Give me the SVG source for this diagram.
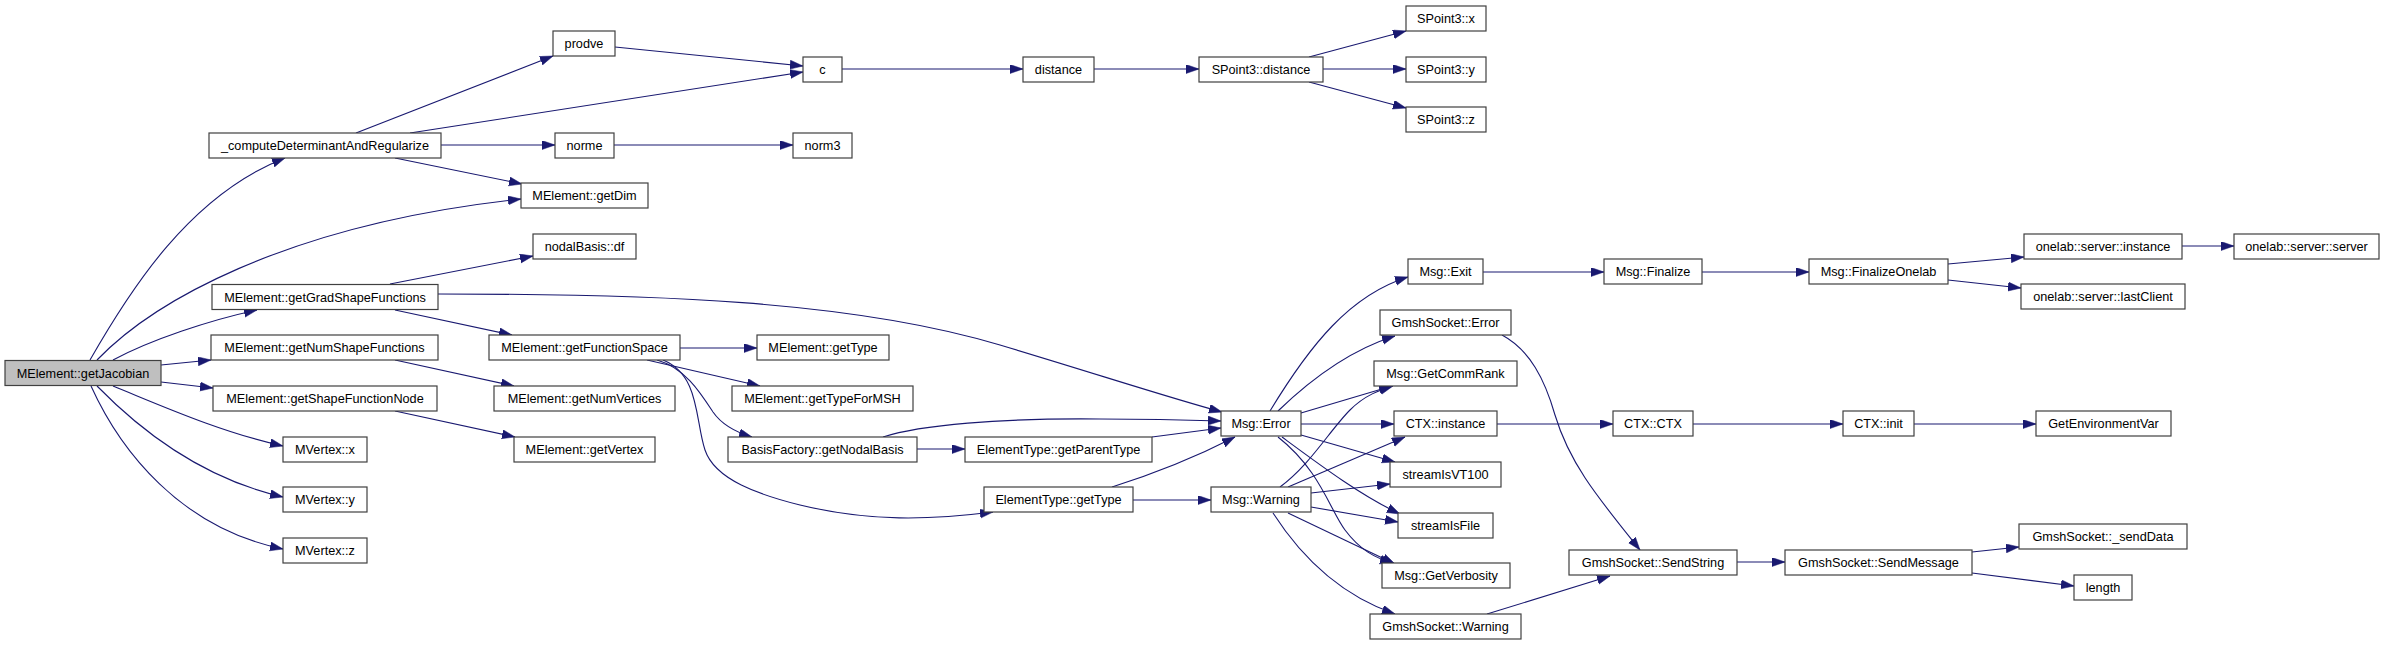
<svg xmlns="http://www.w3.org/2000/svg" width="2384" height="645" viewBox="0 0 2384 645">
<style>
rect.n{fill:#ffffff;stroke:#404040;stroke-width:1.2}
rect.r{fill:#bfbfbf;stroke:#404040;stroke-width:1.2}
text{font-family:"Liberation Sans",Arial,Helvetica,sans-serif;font-size:12.7px;text-anchor:middle;fill:#000}
path.e{fill:none;stroke:#191970;stroke-width:1.1;marker-end:url(#a)}
</style>
<defs>
<marker id="a" markerWidth="14" markerHeight="10" refX="13" refY="4.5" orient="auto" markerUnits="userSpaceOnUse">
<path d="M0,0 L13,4.5 L0,9 z" fill="#191970" stroke="#191970" stroke-width="0.5"/>
</marker>
</defs>
<rect width="2384" height="645" fill="#ffffff"/>
<g id="edges">
<path class="e" d="M90,360 C130,290 190,195 285,158"/>
<path class="e" d="M97,360 C150,305 280,225 521,199"/>
<path class="e" d="M113,360 C150,340 210,320 257,310"/>
<path class="e" d="M161,365 L211,360"/>
<path class="e" d="M161,382 L213,388"/>
<path class="e" d="M113,386 C160,405 220,432 283,446"/>
<path class="e" d="M97,386 C140,430 200,478 283,497"/>
<path class="e" d="M91,386 C120,450 180,528 283,549"/>
<path class="e" d="M356,133 L553,56"/>
<path class="e" d="M410,133 L803,72"/>
<path class="e" d="M441,145 L555,145"/>
<path class="e" d="M395,158 L522,184"/>
<path class="e" d="M615,47 L803,66"/>
<path class="e" d="M842,69 L1023,69"/>
<path class="e" d="M1094,69 L1199,69"/>
<path class="e" d="M1309,57 L1406,31"/>
<path class="e" d="M1323,69 L1406,69"/>
<path class="e" d="M1309,82 L1406,108"/>
<path class="e" d="M614,145 L793,145"/>
<path class="e" d="M390,284 L533,256"/>
<path class="e" d="M438,294 C650,294 850,300 1000,345 C1100,375 1170,398 1222,412"/>
<path class="e" d="M395,310 L512,335"/>
<path class="e" d="M395,360 L514,386"/>
<path class="e" d="M395,411 L515,437"/>
<path class="e" d="M680,348 L757,348"/>
<path class="e" d="M647,360 L760,386"/>
<path class="e" d="M657,360 C685,368 700,392 713,412 C722,425 735,432 752,437"/>
<path class="e" d="M663,360 C700,375 695,420 705,450 C715,480 760,495 800,505 C870,522 930,520 993,512"/>
<path class="e" d="M883,437 C920,425 1000,418 1100,419 C1150,419 1190,420 1221,421"/>
<path class="e" d="M917,449 L965,449"/>
<path class="e" d="M1152,437 L1221,428"/>
<path class="e" d="M1112,487 C1150,475 1190,460 1235,437"/>
<path class="e" d="M1133,500 L1211,500"/>
<path class="e" d="M1270,411 C1310,345 1350,295 1408,277"/>
<path class="e" d="M1278,411 C1310,380 1350,350 1395,336"/>
<path class="e" d="M1301,413 L1392,386"/>
<path class="e" d="M1301,424 L1394,424"/>
<path class="e" d="M1301,435 L1395,462"/>
<path class="e" d="M1282,437 C1320,465 1360,495 1400,514"/>
<path class="e" d="M1278,437 C1320,470 1330,510 1345,530 C1360,550 1375,558 1393,563"/>
<path class="e" d="M1280,487 C1310,465 1330,430 1350,410 C1365,395 1380,390 1393,386"/>
<path class="e" d="M1288,487 L1405,437"/>
<path class="e" d="M1311,493 L1390,484"/>
<path class="e" d="M1311,507 L1398,522"/>
<path class="e" d="M1288,513 L1395,564"/>
<path class="e" d="M1273,513 C1300,555 1340,595 1395,614"/>
<path class="e" d="M1483,272 L1604,272"/>
<path class="e" d="M1702,272 L1809,272"/>
<path class="e" d="M1948,264 L2024,257"/>
<path class="e" d="M1948,280 L2021,288"/>
<path class="e" d="M2182,246 L2234,246"/>
<path class="e" d="M1502,335 C1530,350 1545,380 1555,415 C1570,465 1600,500 1640,550"/>
<path class="e" d="M1487,614 L1610,576"/>
<path class="e" d="M1497,424 L1613,424"/>
<path class="e" d="M1693,424 L1843,424"/>
<path class="e" d="M1914,424 L2036,424"/>
<path class="e" d="M1737,562 L1785,562"/>
<path class="e" d="M1972,552 L2019,547"/>
<path class="e" d="M1972,573 L2074,586"/>
</g>
<g id="n_getJacobian"><rect class="r" x="5" y="360.5" width="156" height="25"/><text x="83" y="377.5">MElement::getJacobian</text></g>
<g id="n_compute"><rect class="n" x="209" y="133" width="232" height="25"/><text x="325" y="150">_computeDeterminantAndRegularize</text></g>
<g id="n_getGrad"><rect class="n" x="212" y="284.5" width="226" height="25"/><text x="325" y="301.5">MElement::getGradShapeFunctions</text></g>
<g id="n_getNumShape"><rect class="n" x="211" y="335" width="227" height="25"/><text x="324.5" y="352">MElement::getNumShapeFunctions</text></g>
<g id="n_getShapeNode"><rect class="n" x="213" y="386" width="224" height="25"/><text x="325" y="403">MElement::getShapeFunctionNode</text></g>
<g id="n_mvx"><rect class="n" x="283" y="437" width="84" height="25"/><text x="325" y="454">MVertex::x</text></g>
<g id="n_mvy"><rect class="n" x="283" y="487" width="84" height="25"/><text x="325" y="504">MVertex::y</text></g>
<g id="n_mvz"><rect class="n" x="283" y="538" width="84" height="25"/><text x="325" y="555">MVertex::z</text></g>
<g id="n_prodve"><rect class="n" x="553" y="31" width="62" height="25"/><text x="584" y="48">prodve</text></g>
<g id="n_norme"><rect class="n" x="555" y="133" width="59" height="25"/><text x="584.5" y="150">norme</text></g>
<g id="n_getDim"><rect class="n" x="521" y="183" width="127" height="25"/><text x="584.5" y="200">MElement::getDim</text></g>
<g id="n_df"><rect class="n" x="533" y="234" width="103" height="25"/><text x="584.5" y="251">nodalBasis::df</text></g>
<g id="n_getFS"><rect class="n" x="489" y="335" width="191" height="25"/><text x="584.5" y="352">MElement::getFunctionSpace</text></g>
<g id="n_getNumV"><rect class="n" x="494" y="386" width="181" height="25"/><text x="584.5" y="403">MElement::getNumVertices</text></g>
<g id="n_getVertex"><rect class="n" x="514" y="437" width="141" height="25"/><text x="584.5" y="454">MElement::getVertex</text></g>
<g id="n_c"><rect class="n" x="803" y="57" width="39" height="25"/><text x="822.5" y="74">c</text></g>
<g id="n_norm3"><rect class="n" x="793" y="133" width="59" height="25"/><text x="822.5" y="150">norm3</text></g>
<g id="n_getType"><rect class="n" x="757" y="335" width="132" height="25"/><text x="823" y="352">MElement::getType</text></g>
<g id="n_getTypeMSH"><rect class="n" x="732" y="386" width="181" height="25"/><text x="822.5" y="403">MElement::getTypeForMSH</text></g>
<g id="n_nodalBasis"><rect class="n" x="728" y="437" width="189" height="25"/><text x="822.5" y="454">BasisFactory::getNodalBasis</text></g>
<g id="n_distance"><rect class="n" x="1023" y="57" width="71" height="25"/><text x="1058.5" y="74">distance</text></g>
<g id="n_parentType"><rect class="n" x="965" y="437" width="187" height="25"/><text x="1058.5" y="454">ElementType::getParentType</text></g>
<g id="n_etGetType"><rect class="n" x="984" y="487" width="149" height="25"/><text x="1058.5" y="504">ElementType::getType</text></g>
<g id="n_spdist"><rect class="n" x="1199" y="57" width="124" height="25"/><text x="1261" y="74">SPoint3::distance</text></g>
<g id="n_spx"><rect class="n" x="1406" y="6" width="80" height="25"/><text x="1446" y="23">SPoint3::x</text></g>
<g id="n_spy"><rect class="n" x="1406" y="57" width="80" height="25"/><text x="1446" y="74">SPoint3::y</text></g>
<g id="n_spz"><rect class="n" x="1406" y="107" width="80" height="25"/><text x="1446" y="124">SPoint3::z</text></g>
<g id="n_exit"><rect class="n" x="1408" y="259" width="75" height="25"/><text x="1445.5" y="276">Msg::Exit</text></g>
<g id="n_gsError"><rect class="n" x="1380" y="310" width="131" height="25"/><text x="1445.5" y="327">GmshSocket::Error</text></g>
<g id="n_commRank"><rect class="n" x="1374" y="361" width="143" height="25"/><text x="1445.5" y="378">Msg::GetCommRank</text></g>
<g id="n_msgError"><rect class="n" x="1221" y="411" width="80" height="25"/><text x="1261" y="428">Msg::Error</text></g>
<g id="n_ctxInst"><rect class="n" x="1394" y="411" width="103" height="25"/><text x="1445.5" y="428">CTX::instance</text></g>
<g id="n_vt100"><rect class="n" x="1390" y="462" width="111" height="25"/><text x="1445.5" y="479">streamIsVT100</text></g>
<g id="n_msgWarning"><rect class="n" x="1211" y="487" width="100" height="25"/><text x="1261" y="504">Msg::Warning</text></g>
<g id="n_isFile"><rect class="n" x="1398" y="513" width="95" height="25"/><text x="1445.5" y="530">streamIsFile</text></g>
<g id="n_verbosity"><rect class="n" x="1382" y="563" width="128" height="25"/><text x="1446" y="580">Msg::GetVerbosity</text></g>
<g id="n_gsWarning"><rect class="n" x="1370" y="614" width="151" height="25"/><text x="1445.5" y="631">GmshSocket::Warning</text></g>
<g id="n_sendString"><rect class="n" x="1569" y="550" width="168" height="25"/><text x="1653" y="567">GmshSocket::SendString</text></g>
<g id="n_finalize"><rect class="n" x="1604" y="259" width="98" height="25"/><text x="1653" y="276">Msg::Finalize</text></g>
<g id="n_finalizeOnelab"><rect class="n" x="1809" y="259" width="139" height="25"/><text x="1878.5" y="276">Msg::FinalizeOnelab</text></g>
<g id="n_ctxctx"><rect class="n" x="1613" y="411" width="80" height="25"/><text x="1653" y="428">CTX::CTX</text></g>
<g id="n_ctxinit"><rect class="n" x="1843" y="411" width="71" height="25"/><text x="1878.5" y="428">CTX::init</text></g>
<g id="n_sendMessage"><rect class="n" x="1785" y="550" width="187" height="25"/><text x="1878.5" y="567">GmshSocket::SendMessage</text></g>
<g id="n_olInstance"><rect class="n" x="2024" y="234" width="158" height="25"/><text x="2103" y="251">onelab::server::instance</text></g>
<g id="n_olServer"><rect class="n" x="2234" y="234" width="145" height="25"/><text x="2306.5" y="251">onelab::server::server</text></g>
<g id="n_olLastClient"><rect class="n" x="2021" y="284" width="164" height="25"/><text x="2103" y="301">onelab::server::lastClient</text></g>
<g id="n_getEnv"><rect class="n" x="2036" y="411" width="135" height="25"/><text x="2103.5" y="428">GetEnvironmentVar</text></g>
<g id="n_sendData"><rect class="n" x="2019" y="524" width="168" height="25"/><text x="2103" y="541">GmshSocket::_sendData</text></g>
<g id="n_length"><rect class="n" x="2074" y="575" width="58" height="25"/><text x="2103" y="592">length</text></g>
</svg>
